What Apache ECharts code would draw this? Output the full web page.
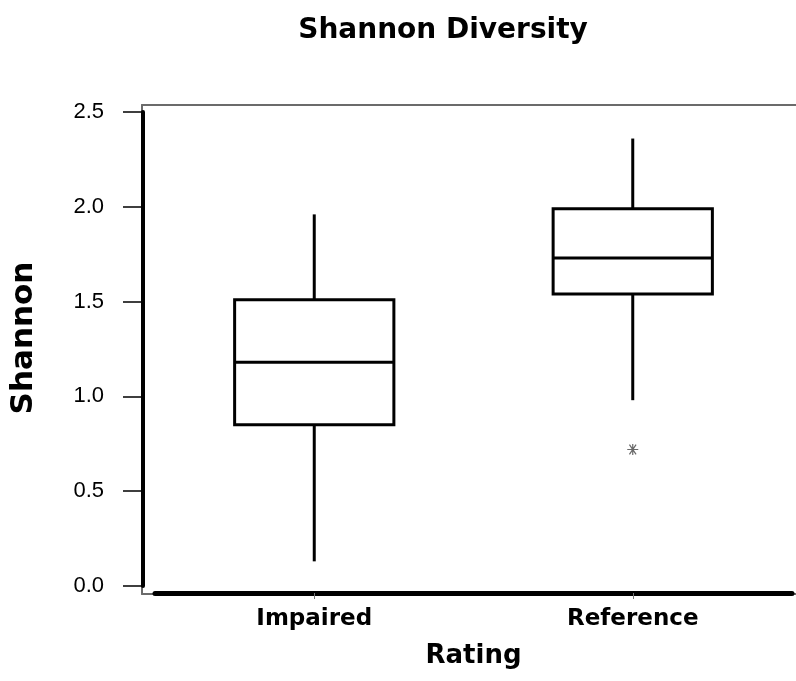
<!DOCTYPE html>
<html>
<head>
<meta charset="utf-8">
<script src="https://cdn.jsdelivr.net/npm/echarts@6/dist/echarts.min.js"></script>
<style>html,body{margin:0;padding:0;background:#fff}#c{width:796px;height:681px}</style>
</head>
<body>
<div id="c"></div>
<script>
var categories = ['Impaired', 'Reference'];
// [low whisker, Q1, median, Q3, high whisker]
var boxStats = [
  [0.13, 0.85, 1.18, 1.51, 1.96],
  [0.98, 1.54, 1.73, 1.99, 2.36]
];
var outliers = [[1, 0.72]];
var yTicks = [0, 0.5, 1.0, 1.5, 2.0, 2.5];

var FONT = 'Liberation Sans';
var BOLD = 'DejaVu Sans';
var chart = echarts.init(document.getElementById('c'), null, {renderer: 'canvas'});

function renderBox(params, api) {
  var idx = api.value(0);
  var lo = api.coord([idx, api.value(1)]);
  var q1 = api.coord([idx, api.value(2)]);
  var md = api.coord([idx, api.value(3)]);
  var q3 = api.coord([idx, api.value(4)]);
  var hi = api.coord([idx, api.value(5)]);
  var w = api.size([1, 0])[0] * 0.5;
  var x = lo[0];
  var st = {stroke: '#000', lineWidth: 3, fill: null};
  return {
    type: 'group',
    children: [
      {type: 'line', shape: {x1: x, y1: q3[1], x2: x, y2: hi[1]}, style: st},
      {type: 'line', shape: {x1: x, y1: q1[1], x2: x, y2: lo[1]}, style: st},
      {type: 'rect', shape: {x: x - w / 2, y: q3[1], width: w, height: q1[1] - q3[1]},
        style: {stroke: '#000', lineWidth: 3, fill: '#fff'}},
      {type: 'line', shape: {x1: x - w / 2, y1: md[1], x2: x + w / 2, y2: md[1]}, style: st}
    ]
  };
}

var grayLine = {show: true, onZero: false, lineStyle: {color: '#6b6b6b', width: 2}};

chart.setOption({
  animation: false,
  backgroundColor: '#fff',
  title: {
    text: 'Shannon Diversity',
    left: 438, top: 12, textAlign: 'center',
    textStyle: {fontFamily: BOLD, fontWeight: 'bold', fontSize: 28, color: '#000'}
  },
  grid: [
    {left: 154, right: 4, top: 112, bottom: 95},
    {left: 142, right: 0, top: 105, bottom: 87}
  ],
  xAxis: [
    {
      type: 'category', data: categories, gridIndex: 0, position: 'bottom', offset: 7, z: 5,
      axisLine: {show: true, onZero: false, lineStyle: {color: '#000', width: 5}},
      axisTick: {show: true, alignWithLabel: true, length: 6, lineStyle: {color: '#777', width: 1}},
      axisLabel: {margin: 15, fontFamily: BOLD, fontWeight: 'bold', fontSize: 23, color: '#000'},
      name: 'Rating', nameLocation: 'middle', nameGap: 50,
      nameTextStyle: {fontFamily: BOLD, fontWeight: 'bold', fontSize: 26, color: '#000'},
      splitLine: {show: false}
    },
    {type: 'value', gridIndex: 1, position: 'top', z: 0, axisLine: grayLine,
      axisTick: {show: false}, axisLabel: {show: false}, splitLine: {show: false}},
    {type: 'value', gridIndex: 1, position: 'bottom', z: 0, axisLine: grayLine,
      axisTick: {show: false}, axisLabel: {show: false}, splitLine: {show: false}}
  ],
  yAxis: [
    {
      type: 'value', gridIndex: 0, min: 0, max: 2.5, interval: 0.5, offset: 12, z: 5,
      axisLine: {show: true, onZero: false, lineStyle: {color: '#000', width: 4}},
      axisTick: {show: true, length: 20, lineStyle: {color: '#000', width: 1.5}},
      axisLabel: {margin: 39, fontFamily: FONT, fontSize: 22, color: '#000',
        formatter: function (v) { return v.toFixed(1); }},
      splitLine: {show: false},
      name: 'Shannon', nameLocation: 'middle', nameGap: 104, nameRotate: 90,
      nameTextStyle: {fontFamily: BOLD, fontWeight: 'bold', fontSize: 31, color: '#000', padding: [0, 0, 0, 22]}
    },
    {type: 'value', gridIndex: 1, position: 'left', z: 0, axisLine: grayLine,
      axisTick: {show: false}, axisLabel: {show: false}, splitLine: {show: false}}
  ],
  series: [
    {
      type: 'custom', xAxisIndex: 0, yAxisIndex: 0, z: 5,
      renderItem: renderBox,
      encode: {x: 0, y: [1, 2, 3, 4, 5]},
      data: boxStats.map(function (s, i) { return [i].concat(s); })
    },
    {
      type: 'scatter', xAxisIndex: 0, yAxisIndex: 0, z: 6,
      symbol: 'path://M0,5L10,5M2,1L8,9M8,1L2,9M5,0.5L5,9.5',
      symbolSize: 11,
      itemStyle: {color: 'rgba(0,0,0,0)', borderColor: '#444', borderWidth: 1.2},
      data: outliers
    }
  ]
});
</script>
</body>
</html>
